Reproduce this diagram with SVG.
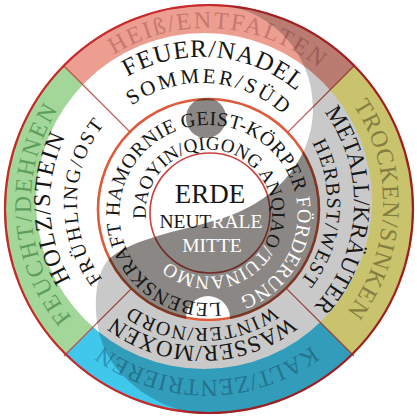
<svg xmlns="http://www.w3.org/2000/svg" width="417" height="418" viewBox="0 0 417 418">
<style>
 text { font-family: "Liberation Serif", "Times New Roman", serif; }
 .band { font-size: 24px; }
 .blk { fill: #161616; }
 .wht { fill: #ffffff; }
 .sep { stroke: #c0504a; stroke-width: 1.2; }
</style>
<defs>
 <path id="pBT" d="M194.72,379.58 A176,176 0 1 1 219.28,28.42 A176,176 0 1 1 194.72,379.58"/>
 <path id="pBR" d="M31.11,197.86 A176,176 0 1 1 382.89,210.14 A176,176 0 1 1 31.11,197.86"/>
 <path id="pBB" d="M207,28 A176,176 0 1 1 207,380 A176,176 0 1 1 207,28"/>
 <path id="pBL" d="M382.67,193.26 A176,176 0 1 1 31.33,214.74 A176,176 0 1 1 382.67,193.26"/>
 <path id="pFE" d="M189.27,348.44 A146,146 0 1 1 214.73,57.56 A146,146 0 1 1 189.27,348.44"/>
 <path id="pSO" d="M193.63,322.71 A120,120 0 1 1 210.37,83.29 A120,120 0 1 1 193.63,322.71"/>
 <path id="pME" d="M50.21,195.04 A152,152 0 1 1 353.79,210.96 A152,152 0 1 1 50.21,195.04"/>
 <path id="pHE" d="M77.48,192.1 A125,125 0 1 1 326.52,213.9 A125,125 0 1 1 77.48,192.1"/>
 <path id="pWA" d="M202,60 A143,143 0 1 1 202,346 A143,143 0 1 1 202,60"/>
 <path id="pWI" d="M202,78 A125,125 0 1 1 202,328 A125,125 0 1 1 202,78"/>
 <path id="pHO" d="M353.91,197.7 A152,152 0 1 1 50.09,208.3 A152,152 0 1 1 353.91,197.7"/>
 <path id="pFR" d="M326.98,205.18 A125,125 0 1 1 77.02,200.82 A125,125 0 1 1 326.98,205.18"/>
 <path id="pIO" d="M230.03,300.36 A89,89 0 1 1 186.97,127.64 A89,89 0 1 1 230.03,300.36"/>
 <path id="pII" d="M153.22,242.28 A63,63 0 1 1 264.78,183.72 A63,63 0 1 1 153.22,242.28"/>
 <clipPath id="cOuter"><circle cx="209" cy="209" r="205"/></clipPath>
 <clipPath id="cInner"><circle cx="208.5" cy="209.5" r="111.5"/></clipPath>
 <clipPath id="cDot"><circle cx="208.5" cy="209.5" r="112"/></clipPath>
 <mask id="mDark" maskUnits="userSpaceOnUse" x="0" y="0" width="417" height="418">
  <path d="M209,4 C266,4 313,50 313,108 C313,160 275,205 213,221 C180,231 135,238 110,258 C92,275 93,320 103,345 C115,378 160,414 209,414 A205,205 0 0 0 414,209 A205,205 0 0 0 209,4 Z" fill="#fff"/>
  <circle cx="206" cy="118" r="20" fill="#fff"/>
  <g clip-path="url(#cDot)"><circle cx="208" cy="318" r="22" fill="#000"/></g>
 </mask>
</defs>
<rect width="417" height="418" fill="#fff"/>
<g id="bands" clip-path="url(#cOuter)">
 <polygon points="209,211 -100,-98 518,-98" fill="#ec9e90"/>
 <polygon points="209,211 518,-98 518,520" fill="#fff88b"/>
 <polygon points="209,211 518,520 -100,520" fill="#40c8ec"/>
 <polygon points="209,211 -100,520 -100,-98" fill="#a3d79a"/>
 <circle cx="204" cy="201" r="168" fill="#fff"/>
</g>
<g id="connectors">
 <line class="sep" x1="286.8" y1="133.2" x2="354" y2="66"/>
 <line class="sep" x1="286.8" y1="288.8" x2="354" y2="356"/>
 <line class="sep" x1="131.2" y1="288.8" x2="64" y2="356"/>
 <line class="sep" x1="131.2" y1="133.2" x2="64" y2="66"/>
</g>
<g id="rings" fill="none">
 <circle cx="209" cy="209" r="204" stroke="#c8282a" stroke-width="2.2"/>
 <circle cx="208.5" cy="209.5" r="110.5" stroke="#dd5a3a" stroke-width="2.6"/>
 <circle cx="210" cy="213" r="60" stroke="#cc4040" stroke-width="1.6"/>
</g>
<g id="band-labels" class="band">
 <text fill="#c8786e" letter-spacing="2"><textPath href="#pBT" startOffset="50%" text-anchor="middle">HEIß/ENTFALTEN</textPath></text>
 <text fill="#a8a050" letter-spacing="1"><textPath href="#pBR" startOffset="50%" text-anchor="middle">TROCKEN/SINKEN</textPath></text>
 <text fill="#2f93b6" letter-spacing="0.5"><textPath href="#pBB" startOffset="50%" text-anchor="middle">KALT/ZENTRIEREN</textPath></text>
 <text fill="#5e9e5a" letter-spacing="2"><textPath href="#pBL" startOffset="50%" text-anchor="middle">FEUCHT/DEHNEN</textPath></text>
</g>
<g id="yinyang">
 <g clip-path="url(#cOuter)"><rect width="417" height="418" fill="#000" fill-opacity="0.21" mask="url(#mDark)"/></g>
 <g clip-path="url(#cInner)"><rect width="417" height="418" fill="#2a1e18" fill-opacity="0.39" mask="url(#mDark)"/></g>
</g>
<g id="node-feuer" class="blk">
 <text font-size="25" letter-spacing="1"><textPath href="#pFE" startOffset="50%" text-anchor="middle">FEUER/NADEL</textPath></text>
 <text font-size="21" letter-spacing="2.8"><textPath href="#pSO" startOffset="50%" text-anchor="middle">SOMMER/SÜD</textPath></text>
</g>
<g id="node-metall" class="blk">
 <text font-size="23.5"><textPath href="#pME" startOffset="50%" text-anchor="middle">METALL/KRÄUTER</textPath></text>
 <text font-size="20" letter-spacing="1"><textPath href="#pHE" startOffset="50%" text-anchor="middle">HERBST/WEST</textPath></text>
</g>
<g id="node-wasser" class="blk">
 <text font-size="23" letter-spacing="0.5"><textPath href="#pWA" startOffset="50%" text-anchor="middle">WASSER/MOXEN</textPath></text>
 <text font-size="20" letter-spacing="1"><textPath href="#pWI" startOffset="50%" text-anchor="middle">WINTER/NORD</textPath></text>
</g>
<g id="node-holz" class="blk">
 <text font-size="24" letter-spacing="1.2"><textPath href="#pHO" startOffset="50%" text-anchor="middle">HOLZ/STEIN</textPath></text>
 <text font-size="20" letter-spacing="2"><textPath href="#pFR" startOffset="50%" text-anchor="middle">FRÜHLING/OST</textPath></text>
</g>
<g id="node-inner">
 <text font-size="20" letter-spacing="0.3"><textPath href="#pIO" startOffset="50%" text-anchor="middle"><tspan class="blk">LEBENSKRAFT HAMORNIE GEIST-KÖRPER </tspan><tspan class="wht">FÖRDERUNG</tspan></textPath></text>
 <text font-size="19" letter-spacing="0.2"><textPath href="#pII" startOffset="50%" text-anchor="middle"><tspan class="blk">DAOYIN/QIGONG ANQIAO</tspan><tspan class="wht">/TUINANMO</tspan></textPath></text>
</g>
<g id="node-erde">
 <text x="210" y="203" font-size="27" text-anchor="middle" class="blk">ERDE</text>
 <text x="211" y="228" font-size="19.5" text-anchor="middle"><tspan class="blk">NEUT</tspan><tspan class="wht">RALE</tspan></text>
 <text x="212" y="252" font-size="19.5" text-anchor="middle" class="wht">MITTE</text>
</g>
</svg>
